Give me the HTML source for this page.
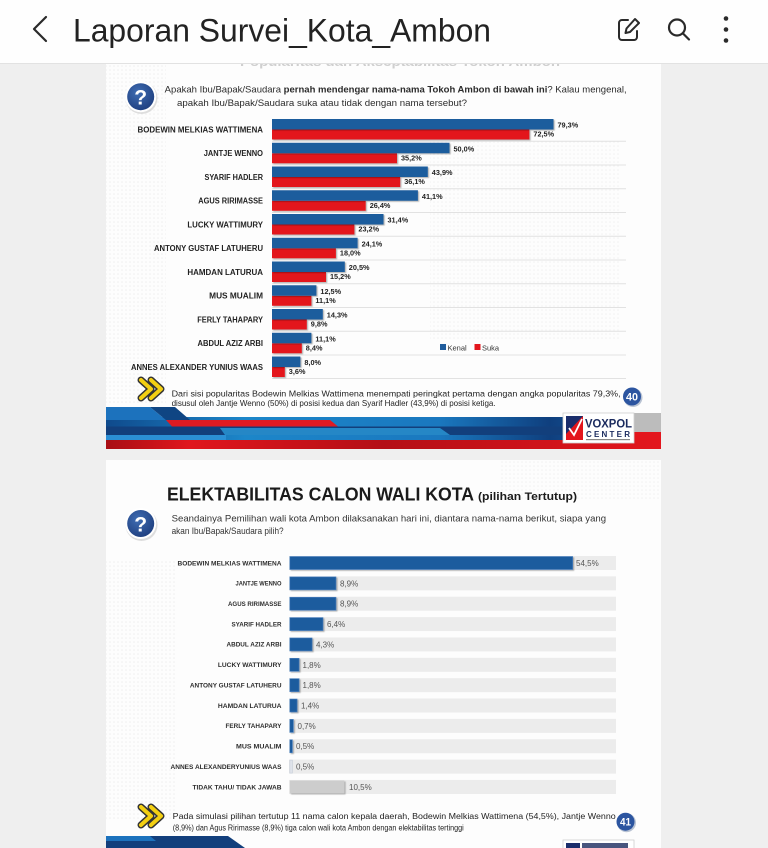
<!DOCTYPE html>
<html>
<head>
<meta charset="utf-8">
<style>
  html,body{margin:0;padding:0;background:#efefef;}
  svg{display:block;}
  text{font-family:"Liberation Sans",Arial,sans-serif;}
</style>
</head>
<body>
<svg width="768" height="848" viewBox="0 0 768 848" xmlns="http://www.w3.org/2000/svg">
  <defs>
    <pattern id="dots" x="0" y="0" width="4" height="4" patternUnits="userSpaceOnUse">
      <circle cx="2" cy="2" r="0.8" fill="#e4e4e4"/>
    </pattern>
    <linearGradient id="bandBlue" x1="0" x2="1" y1="0" y2="0">
      <stop offset="0" stop-color="#0f4a8c"/>
      <stop offset="0.25" stop-color="#1c86c9"/>
      <stop offset="0.6" stop-color="#1a78bf"/>
      <stop offset="0.8" stop-color="#0f3f7e"/>
      <stop offset="1" stop-color="#1b6fb5"/>
    </linearGradient>
    <linearGradient id="bandRed" x1="0" x2="1" y1="0" y2="0">
      <stop offset="0" stop-color="#a80e14"/>
      <stop offset="0.15" stop-color="#e0161d"/>
      <stop offset="0.5" stop-color="#b40f16"/>
      <stop offset="1" stop-color="#e3161d"/>
    </linearGradient>
    <radialGradient id="qg" cx="0.4" cy="0.35" r="0.7">
      <stop offset="0" stop-color="#3f6db3"/>
      <stop offset="1" stop-color="#1f3f7f"/>
    </radialGradient>
    <filter id="sh" x="-5%" y="-20%" width="115%" height="160%">
      <feDropShadow dx="1.2" dy="1" stdDeviation="0.6" flood-color="#000" flood-opacity="0.3"/>
    </filter>
    <clipPath id="clip1"><rect x="106" y="63" width="555" height="386"/></clipPath>
    <clipPath id="clip2"><rect x="106" y="460" width="555" height="388"/></clipPath>
  </defs>

  <rect x="0" y="0" width="768" height="848" fill="#efefef"/>

  <!-- ================= SLIDE 1 ================= -->
  <g clip-path="url(#clip1)">
    <rect x="106" y="63" width="555" height="386" fill="#fdfdfd"/>
    <rect x="106" y="63" width="60" height="340" fill="url(#dots)" opacity="0.6"/>
    <rect x="430" y="140" width="190" height="200" fill="url(#dots)" opacity="0.5"/>
    <text x="240" y="66" font-size="13" font-weight="bold" fill="#cfcfcf" textLength="320" lengthAdjust="spacingAndGlyphs">Popularitas dan Akseptabilitas Tokoh Ambon</text>

    <circle cx="141.5" cy="98" r="16" fill="#c9c9c9" opacity="0.6"/>
    <circle cx="140.7" cy="96.7" r="15.5" fill="#ffffff"/>
    <circle cx="140.7" cy="96.7" r="13.5" fill="url(#qg)"/>
    <text x="140.7" y="104.5" font-size="21" font-weight="bold" fill="#ffffff" text-anchor="middle">?</text>

    <text x="164.7" y="92.5" font-size="9.5" fill="#2b2b2b" textLength="462" lengthAdjust="spacingAndGlyphs">Apakah Ibu/Bapak/Saudara <tspan font-weight="bold">pernah mendengar nama-nama Tokoh Ambon di bawah ini</tspan>? Kalau mengenal,</text>
    <text x="177" y="106" font-size="9.5" fill="#2b2b2b" textLength="290" lengthAdjust="spacingAndGlyphs">apakah Ibu/Bapak/Saudara suka atau tidak dengan nama tersebut?</text>

    <g stroke="#e2e2e2" stroke-width="1">
      <line x1="272" x2="626" y1="141.2" y2="141.2"/>
      <line x1="272" x2="626" y1="165" y2="165"/>
      <line x1="272" x2="626" y1="188.7" y2="188.7"/>
      <line x1="272" x2="626" y1="212.5" y2="212.5"/>
      <line x1="272" x2="626" y1="236.2" y2="236.2"/>
      <line x1="272" x2="626" y1="260" y2="260"/>
      <line x1="272" x2="626" y1="283.7" y2="283.7"/>
      <line x1="272" x2="626" y1="307.5" y2="307.5"/>
      <line x1="272" x2="626" y1="331.2" y2="331.2"/>
      <line x1="272" x2="626" y1="355" y2="355"/>
      <line x1="272" x2="626" y1="378.5" y2="378.5"/>
    </g>

    <g fill="#e3161d" filter="url(#sh)">
      <rect x="272" y="129.5" width="257.4" height="10"/>
      <rect x="272" y="153.25" width="125" height="10"/>
      <rect x="272" y="177" width="128.2" height="10"/>
      <rect x="272" y="200.75" width="93.7" height="10"/>
      <rect x="272" y="224.5" width="82.4" height="10"/>
      <rect x="272" y="248.25" width="63.9" height="10"/>
      <rect x="272" y="272" width="54" height="10"/>
      <rect x="272" y="295.75" width="39.4" height="10"/>
      <rect x="272" y="319.5" width="34.8" height="10"/>
      <rect x="272" y="343.25" width="29.8" height="10"/>
      <rect x="272" y="367" width="12.8" height="10"/>
    </g>
    <g fill="#1f5d9d" filter="url(#sh)">
      <rect x="272" y="119" width="281.5" height="10.5"/>
      <rect x="272" y="142.75" width="177.5" height="10.5"/>
      <rect x="272" y="166.5" width="155.8" height="10.5"/>
      <rect x="272" y="190.25" width="145.9" height="10.5"/>
      <rect x="272" y="214" width="111.5" height="10.5"/>
      <rect x="272" y="237.75" width="85.6" height="10.5"/>
      <rect x="272" y="261.5" width="72.8" height="10.5"/>
      <rect x="272" y="285.25" width="44.4" height="10.5"/>
      <rect x="272" y="309" width="50.8" height="10.5"/>
      <rect x="272" y="332.75" width="39.4" height="10.5"/>
      <rect x="272" y="356.5" width="28.4" height="10.5"/>
    </g>

    <g font-size="7.8" font-weight="bold" fill="#222" text-anchor="end">
      <text x="263" y="132.3" textLength="125.5" lengthAdjust="spacingAndGlyphs">BODEWIN MELKIAS WATTIMENA</text>
      <text x="263" y="156.05" textLength="59.3" lengthAdjust="spacingAndGlyphs">JANTJE WENNO</text>
      <text x="263" y="179.8" textLength="58.5" lengthAdjust="spacingAndGlyphs">SYARIF HADLER</text>
      <text x="263" y="203.55" textLength="64.7" lengthAdjust="spacingAndGlyphs">AGUS RIRIMASSE</text>
      <text x="263" y="227.3" textLength="75.6" lengthAdjust="spacingAndGlyphs">LUCKY WATTIMURY</text>
      <text x="263" y="251.05" textLength="109" lengthAdjust="spacingAndGlyphs">ANTONY GUSTAF LATUHERU</text>
      <text x="263" y="274.8" textLength="75.6" lengthAdjust="spacingAndGlyphs">HAMDAN LATURUA</text>
      <text x="263" y="298.55" textLength="53.8" lengthAdjust="spacingAndGlyphs">MUS MUALIM</text>
      <text x="263" y="322.3" textLength="65.8" lengthAdjust="spacingAndGlyphs">FERLY TAHAPARY</text>
      <text x="263" y="346.05" textLength="65.5" lengthAdjust="spacingAndGlyphs">ABDUL AZIZ ARBI</text>
      <text x="263" y="369.8" textLength="132" lengthAdjust="spacingAndGlyphs">ANNES ALEXANDER YUNIUS WAAS</text>
    </g>

    <g font-size="7.3" font-weight="bold" fill="#222">
      <text x="557.5" y="127.5">79,3%</text><text x="533.4" y="136.5">72,5%</text>
      <text x="453.5" y="151.25">50,0%</text><text x="401" y="160.25">35,2%</text>
      <text x="431.8" y="175">43,9%</text><text x="404.2" y="184">36,1%</text>
      <text x="421.9" y="198.75">41,1%</text><text x="369.7" y="207.75">26,4%</text>
      <text x="387.5" y="222.5">31,4%</text><text x="358.4" y="231.5">23,2%</text>
      <text x="361.6" y="246.25">24,1%</text><text x="339.9" y="255.25">18,0%</text>
      <text x="348.8" y="270">20,5%</text><text x="330" y="279">15,2%</text>
      <text x="320.4" y="293.75">12,5%</text><text x="315.4" y="302.75">11,1%</text>
      <text x="326.8" y="317.5">14,3%</text><text x="310.8" y="326.5">9,8%</text>
      <text x="315.4" y="341.25">11,1%</text><text x="305.8" y="350.25">8,4%</text>
      <text x="304.4" y="365">8,0%</text><text x="288.8" y="374">3,6%</text>
    </g>

    <rect x="440" y="344" width="6" height="6" fill="#1f5d9d"/>
    <text x="447.5" y="350.5" font-size="7.5" fill="#333">Kenal</text>
    <rect x="474.5" y="344" width="6" height="6" fill="#e3161d"/>
    <text x="482" y="350.5" font-size="7.5" fill="#333">Suka</text>

    <g stroke-linejoin="round" stroke-linecap="round" fill="none">
      <polyline points="141,380 151,389 141,398" stroke="#333" stroke-width="7"/>
      <polyline points="151,380 161,389 151,398" stroke="#333" stroke-width="7"/>
      <polyline points="141,380 151,389 141,398" stroke="#f3cf12" stroke-width="4"/>
      <polyline points="151,380 161,389 151,398" stroke="#f3cf12" stroke-width="4"/>
    </g>
    <text x="171.6" y="396.3" font-size="8.6" fill="#222" textLength="449" lengthAdjust="spacingAndGlyphs">Dari sisi popularitas Bodewin Melkias Wattimena menempati peringkat pertama dengan angka popularitas 79,3%,</text>
    <text x="171.6" y="405.8" font-size="8.6" fill="#222" textLength="324" lengthAdjust="spacingAndGlyphs">disusul oleh Jantje Wenno (50%) di posisi kedua dan Syarif Hadler (43,9%) di posisi ketiga.</text>
    <circle cx="633" cy="397.5" r="9.5" fill="#b9c3d3"/>
    <circle cx="632" cy="396.5" r="9" fill="#2c55a0"/>
    <text x="632" y="400.5" font-size="11" font-weight="bold" fill="#fff" text-anchor="middle" textLength="12" lengthAdjust="spacingAndGlyphs">40</text>

    <rect x="106" y="417" width="555" height="32" fill="url(#bandBlue)"/>
    <polygon points="106,407 150,407 166,420 106,420" fill="#1c72bd"/>
    <polygon points="150,407 175,407 190,420 166,420" fill="#0f4583"/>
    <polygon points="166,420 330,420 338,426.5 172,426.5" fill="#e01b22"/>
    <rect x="106" y="426.5" width="555" height="8.5" fill="#123f7c"/>
    <polygon points="220,428 440,428 450,435 225,435" fill="#2a9ad8" opacity="0.8"/>
    <rect x="106" y="435" width="120" height="5" fill="#2b8fd5"/>
    <polygon points="106,440 661,440 661,449 106,449" fill="url(#bandRed)"/>
    <polygon points="620,413 661,413 661,432 628,432" fill="#bcbcbc"/>
    <polygon points="628,432 661,432 661,440 630,440" fill="#e3161d"/>
    <rect x="563" y="413" width="71" height="30" fill="#ffffff" stroke="#cfcfcf" stroke-width="0.8"/>
    <rect x="566" y="416" width="17" height="24" fill="#e3161d"/>
    <polygon points="566,416 583,416 566,434" fill="#1a2d6b"/>
    <polyline points="569,428 574,435 582,419" stroke="#fff" stroke-width="1.8" fill="none"/>
    <text x="585" y="427.5" font-size="11.5" font-weight="bold" fill="#1a2a5e" textLength="47" lengthAdjust="spacingAndGlyphs">VOXPOL</text>
    <text x="586" y="437" font-size="8" font-weight="bold" fill="#1a2a5e" textLength="44" lengthAdjust="spacingAndGlyphs">C E N T E R</text>
    <rect x="586" y="439" width="44" height="1.2" fill="#888"/>
  </g>

  <!-- ================= SLIDE 2 ================= -->
  <g clip-path="url(#clip2)">
    <rect x="106" y="460" width="555" height="388" fill="#fdfdfd"/>
    <rect x="106" y="560" width="70" height="260" fill="url(#dots)" opacity="0.6"/>
    <rect x="500" y="460" width="161" height="40" fill="url(#dots)" opacity="0.5"/>

    <text x="167" y="500.5" font-size="18" font-weight="bold" fill="#1b1b1b" textLength="307" lengthAdjust="spacingAndGlyphs">ELEKTABILITAS CALON WALI KOTA</text>
    <text x="478" y="500" font-size="11" font-weight="bold" fill="#1b1b1b" textLength="99" lengthAdjust="spacingAndGlyphs">(pilihan Tertutup)</text>

    <circle cx="141.5" cy="525" r="16" fill="#c9c9c9" opacity="0.6"/>
    <circle cx="140.7" cy="523.5" r="15.5" fill="#ffffff"/>
    <circle cx="140.7" cy="523.5" r="13.5" fill="url(#qg)"/>
    <text x="140.7" y="531.3" font-size="21" font-weight="bold" fill="#ffffff" text-anchor="middle">?</text>

    <text x="171.6" y="521.5" font-size="9.5" fill="#333" textLength="434.5" lengthAdjust="spacingAndGlyphs">Seandainya Pemilihan wali kota Ambon dilaksanakan hari ini, diantara nama-nama berikut, siapa yang</text>
    <text x="171.6" y="534" font-size="9.5" fill="#333" textLength="112" lengthAdjust="spacingAndGlyphs">akan Ibu/Bapak/Saudara pilih?</text>

    <g fill="#ececec">
      <rect x="289" y="556" width="327" height="14"/>
      <rect x="289" y="576.36" width="327" height="14"/>
      <rect x="289" y="596.72" width="327" height="14"/>
      <rect x="289" y="617.08" width="327" height="14"/>
      <rect x="289" y="637.44" width="327" height="14"/>
      <rect x="289" y="657.8" width="327" height="14"/>
      <rect x="289" y="678.16" width="327" height="14"/>
      <rect x="289" y="698.52" width="327" height="14"/>
      <rect x="289" y="718.88" width="327" height="14"/>
      <rect x="289" y="739.24" width="327" height="14"/>
      <rect x="289" y="759.6" width="327" height="14"/>
      <rect x="289" y="779.96" width="327" height="14"/>
    </g>
    <g fill="#1f5b9e" stroke="#4d83c0" stroke-width="0.6" filter="url(#sh)">
      <rect x="289.8" y="556.5" width="282.9" height="13"/>
      <rect x="289.8" y="576.86" width="46.2" height="13"/>
      <rect x="289.8" y="597.22" width="46.2" height="13"/>
      <rect x="289.8" y="617.58" width="33.2" height="13"/>
      <rect x="289.8" y="637.94" width="22.3" height="13"/>
      <rect x="289.8" y="658.3" width="9.3" height="13"/>
      <rect x="289.8" y="678.66" width="9.3" height="13"/>
      <rect x="289.8" y="699.02" width="7.3" height="13"/>
      <rect x="289.8" y="719.38" width="3.6" height="13"/>
      <rect x="289.8" y="739.74" width="2.6" height="13"/>
    </g>
    <rect x="289.8" y="760.1" width="2.6" height="13" fill="#dfe3ea" stroke="#c5ccd8" stroke-width="0.6"/>
    <rect x="289.8" y="780.46" width="54.5" height="13" fill="#cdcdcd" filter="url(#sh)"/>

    <g font-size="6.4" font-weight="bold" fill="#2e2e2e" text-anchor="end">
      <text x="281.5" y="565.3" textLength="104" lengthAdjust="spacingAndGlyphs">BODEWIN MELKIAS WATTIMENA</text>
      <text x="281.5" y="585.66" textLength="46" lengthAdjust="spacingAndGlyphs">JANTJE WENNO</text>
      <text x="281.5" y="606.02" textLength="53.5" lengthAdjust="spacingAndGlyphs">AGUS RIRIMASSE</text>
      <text x="281.5" y="626.38" textLength="50" lengthAdjust="spacingAndGlyphs">SYARIF HADLER</text>
      <text x="281.5" y="646.74" textLength="55" lengthAdjust="spacingAndGlyphs">ABDUL AZIZ ARBI</text>
      <text x="281.5" y="667.1" textLength="63.6" lengthAdjust="spacingAndGlyphs">LUCKY WATTIMURY</text>
      <text x="281.5" y="687.46" textLength="91.6" lengthAdjust="spacingAndGlyphs">ANTONY GUSTAF LATUHERU</text>
      <text x="281.5" y="707.82" textLength="63.6" lengthAdjust="spacingAndGlyphs">HAMDAN LATURUA</text>
      <text x="281.5" y="728.18" textLength="56" lengthAdjust="spacingAndGlyphs">FERLY TAHAPARY</text>
      <text x="281.5" y="748.54" textLength="45.5" lengthAdjust="spacingAndGlyphs">MUS MUALIM</text>
      <text x="281.5" y="768.9" textLength="111" lengthAdjust="spacingAndGlyphs">ANNES ALEXANDERYUNIUS WAAS</text>
      <text x="281.5" y="789.26" textLength="89" lengthAdjust="spacingAndGlyphs">TIDAK TAHU/ TIDAK JAWAB</text>
    </g>

    <g font-size="8" fill="#555">
      <text x="576" y="566">54,5%</text>
      <text x="340" y="586.36">8,9%</text>
      <text x="340" y="606.72">8,9%</text>
      <text x="327" y="627.08">6,4%</text>
      <text x="316" y="647.44">4,3%</text>
      <text x="302.5" y="667.8">1,8%</text>
      <text x="302.5" y="688.16">1,8%</text>
      <text x="301" y="708.52">1,4%</text>
      <text x="297.5" y="728.88">0,7%</text>
      <text x="296" y="749.24">0,5%</text>
      <text x="296" y="769.6">0,5%</text>
      <text x="349" y="789.96">10,5%</text>
    </g>

    <g stroke-linejoin="round" stroke-linecap="round" fill="none">
      <polyline points="141,807 151,816 141,825" stroke="#333" stroke-width="7"/>
      <polyline points="151,807 161,816 151,825" stroke="#333" stroke-width="7"/>
      <polyline points="141,807 151,816 141,825" stroke="#f3cf12" stroke-width="4"/>
      <polyline points="151,807 161,816 151,825" stroke="#f3cf12" stroke-width="4"/>
    </g>
    <text x="172.7" y="819" font-size="8.6" fill="#222" textLength="443" lengthAdjust="spacingAndGlyphs">Pada simulasi pilihan tertutup 11 nama calon kepala daerah, Bodewin Melkias Wattimena (54,5%), Jantje Wenno</text>
    <text x="172.7" y="830.3" font-size="8.6" fill="#222" textLength="291" lengthAdjust="spacingAndGlyphs">(8,9%) dan Agus Ririmasse (8,9%) tiga calon wali kota Ambon dengan elektabilitas tertinggi</text>
    <circle cx="626.5" cy="822.7" r="9.5" fill="#b9c3d3"/>
    <circle cx="625.5" cy="821.7" r="9" fill="#2c55a0"/>
    <text x="625.5" y="825.7" font-size="11" font-weight="bold" fill="#fff" text-anchor="middle" textLength="11" lengthAdjust="spacingAndGlyphs">41</text>

    <polygon points="106,836 228,836 245,848 106,848" fill="#123f7c"/>
    <polygon points="106,836 150,836 156,841 106,841" fill="#1c72bd"/>
    <rect x="563" y="840" width="71" height="10" fill="#ffffff" stroke="#cfcfcf" stroke-width="0.8"/>
    <rect x="566" y="843" width="14" height="6" fill="#1a2d6b"/>
    <rect x="582" y="843" width="46" height="5" fill="#1a2a5e" opacity="0.8"/>
  </g>

  <!-- ================= HEADER ================= -->
  <rect x="0" y="0" width="768" height="63" fill="#fefefe"/>
  <line x1="0" y1="63.5" x2="768" y2="63.5" stroke="#e2e2e2" stroke-width="1"/>
  <polyline points="46,17 34,29 46,41" fill="none" stroke="#2a2a2a" stroke-width="2.2" stroke-linecap="round" stroke-linejoin="round"/>
  <text x="73" y="41.5" font-size="32" fill="#222" textLength="418" lengthAdjust="spacingAndGlyphs">Laporan Survei_Kota_Ambon</text>
  <path d="M628 20 H622 a3 3 0 0 0 -3 3 V37 a3 3 0 0 0 3 3 H634 a3 3 0 0 0 3 -3 V31" fill="none" stroke="#2a2a2a" stroke-width="2" stroke-linecap="round"/>
  <path d="M635 19 L639 23 L630 32 L625.5 33 L626.5 28.5 Z" fill="none" stroke="#2a2a2a" stroke-width="2" stroke-linejoin="round"/>
  <circle cx="677" cy="27.5" r="8" fill="none" stroke="#2a2a2a" stroke-width="2.2"/>
  <line x1="683" y1="33.5" x2="689" y2="39.5" stroke="#2a2a2a" stroke-width="2.2" stroke-linecap="round"/>
  <circle cx="726" cy="18.5" r="2.3" fill="#2a2a2a"/>
  <circle cx="726" cy="29.5" r="2.3" fill="#2a2a2a"/>
  <circle cx="726" cy="40.5" r="2.3" fill="#2a2a2a"/>
</svg>
</body>
</html>
